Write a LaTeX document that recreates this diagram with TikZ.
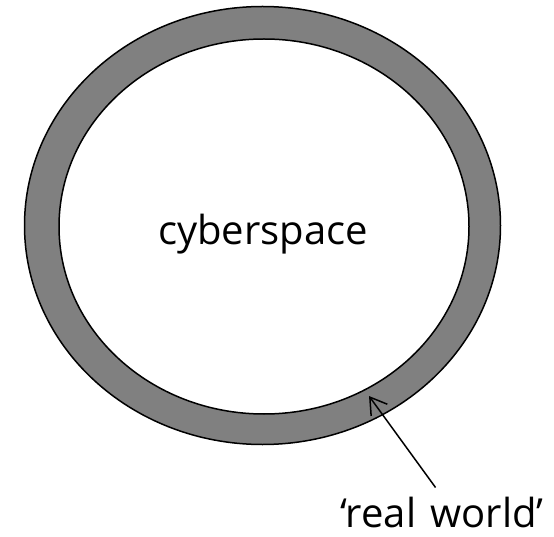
\documentclass[tikz,border=0pt]{standalone}
\usepackage{fontspec}
\setmainfont{Open Sans}
\usetikzlibrary{arrows.meta,shapes.geometric}
\definecolor{ringgray}{HTML}{808080}

\begin{document}
\begin{tikzpicture}[
  x=1pt,y=-1pt,
  every node/.style={font=\fontsize{40}{48}\selectfont},
  R/.style={ellipse,draw=black,line width=1.5pt,inner sep=0pt},
  pt/.style={-{Straight Barb[length=16pt,width=20pt]},line width=1.5pt}
]
\useasboundingbox (0,0) rectangle (554,537);
\node[R,fill=ringgray,minimum width=476pt,minimum height=438pt](World) at (262.5,225.5){};
\node[R,fill=white,minimum width=410pt,minimum height=375pt](Cyber) at (264,226.5){};
\node(Cs) at (263,234){cyberspace};
\node[anchor=base,inner sep=0pt](Rw) at (442,527){‘real\hspace{4pt} world’};
\coordinate(Tip) at (369,396);
\draw[pt,shorten <=11pt](Rw.north)--(Tip);
\end{tikzpicture}
\end{document}
